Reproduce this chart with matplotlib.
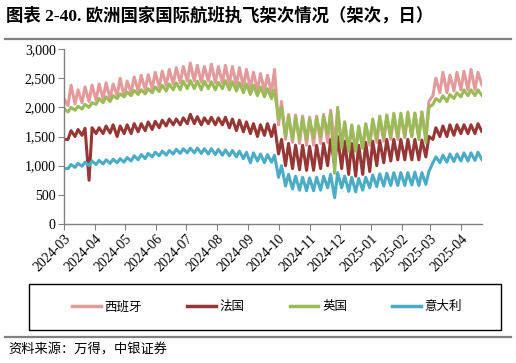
import matplotlib
matplotlib.use('Agg')
import matplotlib.pyplot as plt
import matplotlib.dates as mdates
from matplotlib.patches import Rectangle
from matplotlib.lines import Line2D
from matplotlib.ticker import FuncFormatter
import numpy as np
import pandas as pd

plt.rcParams['font.family'] = ['Liberation Serif', 'Noto Sans CJK SC', 'DejaVu Sans']

# Data: one low and one high reading per week (weekly flight cycle)
week_start = pd.date_range('2024-02-26', periods=61, freq='7D')

spain_lo = [2050, 2030, 2060, 2080, 2100, 2120, 2150, 2150, 2200, 2180,
            2250, 2280, 2300, 2320, 2350, 2380, 2400, 2420, 2450, 2450,
            2430, 2450, 2420, 2420, 2400, 2380, 2350, 2330, 2300, 2280,
            2250, 1700, 1450, 1400, 1380, 1350, 1350, 1380, 1400, 1400,
            1300, 1250, 1250, 1300, 1350, 1400, 1420, 1450, 1450, 1480,
            1500, 1500, 1500, 2200, 2250, 2250, 2280, 2300, 2300, 2300, 2380]
spain_hi = [2150, 2380, 2300, 2350, 2380, 2400, 2420, 2400, 2500, 2450,
            2520, 2550, 2560, 2600, 2620, 2650, 2680, 2700, 2760, 2720,
            2700, 2740, 2700, 2720, 2700, 2680, 2650, 2600, 2580, 2550,
            2650, 2100, 1880, 1870, 1850, 1830, 1850, 1880, 1950, 1950,
            1750, 1680, 1650, 1700, 1750, 1800, 1830, 1850, 1870, 1880,
            1900, 1920, 2100, 2500, 2600, 2550, 2600, 2620, 2650, 2600, 2450]

france_lo = [1350, 1450, 1500, 1520, 750, 1550, 1550, 1560, 1500, 1550,
             1550, 1580, 1600, 1620, 1650, 1680, 1700, 1700, 1720, 1720,
             1700, 1720, 1700, 1700, 1650, 1600, 1580, 1550, 1500, 1520,
             1500, 1200, 1000, 950, 930, 920, 920, 950, 1000, 1000,
             950, 850, 820, 850, 900, 1000, 1050, 1080, 1100, 1100,
             1100, 1100, 1150, 1450, 1500, 1500, 1520, 1550, 1550, 1550, 1580]
france_hi = [1450, 1600, 1620, 1640, 1650, 1650, 1680, 1700, 1680, 1700,
             1720, 1720, 1750, 1760, 1780, 1800, 1800, 1820, 1880, 1840,
             1820, 1830, 1820, 1830, 1800, 1780, 1750, 1720, 1700, 1720,
             1700, 1450, 1380, 1350, 1350, 1330, 1350, 1380, 1450, 1500,
             1420, 1380, 1350, 1400, 1420, 1430, 1450, 1450, 1450, 1450,
             1450, 1440, 1500, 1650, 1680, 1700, 1700, 1700, 1700, 1720, 1650]

uk_lo = [1900, 1920, 1950, 1970, 2000, 2050, 2080, 2100, 2150, 2180,
         2200, 2220, 2230, 2250, 2270, 2280, 2300, 2300, 2320, 2320,
         2300, 2320, 2300, 2320, 2300, 2280, 2250, 2220, 2200, 2180,
         2150, 1800, 1500, 1450, 1450, 1450, 1480, 1500, 1550, 870,
         1300, 1250, 1250, 1300, 1400, 1450, 1480, 1500, 1500, 1500,
         1500, 1450, 1400, 2050, 2100, 2100, 2150, 2180, 2200, 2200, 2200]
uk_hi = [1980, 2000, 2020, 2050, 2080, 2150, 2180, 2200, 2230, 2260,
         2290, 2300, 2320, 2350, 2380, 2400, 2420, 2450, 2460, 2450,
         2450, 2440, 2430, 2460, 2440, 2420, 2400, 2380, 2350, 2320,
         2300, 2000, 1850, 1830, 1820, 1800, 1820, 1850, 1900, 2000,
         1750, 1700, 1680, 1720, 1800, 1850, 1870, 1900, 1900, 1920,
         1900, 1920, 2000, 2150, 2200, 2220, 2250, 2300, 2300, 2300, 2280]

italy_lo = [880, 950, 970, 990, 1000, 1020, 1030, 1040, 1050, 1060,
            1080, 1100, 1120, 1150, 1170, 1180, 1200, 1210, 1220, 1220,
            1210, 1200, 1190, 1180, 1170, 1150, 1120, 1050, 1080, 1050,
            1060, 800, 650, 600, 580, 570, 570, 580, 620, 450,
            620, 560, 550, 580, 620, 640, 650, 660, 660, 660,
            670, 660, 680, 1050, 1050, 1060, 1070, 1080, 1080, 1090, 1100]
italy_hi = [950, 1020, 1040, 1060, 1080, 1090, 1100, 1110, 1120, 1140,
            1170, 1190, 1210, 1230, 1250, 1260, 1280, 1290, 1300, 1300,
            1290, 1290, 1280, 1270, 1260, 1250, 1230, 1220, 1200, 1190,
            1180, 1000, 850, 820, 800, 790, 800, 820, 850, 880,
            820, 800, 780, 800, 840, 860, 870, 880, 880, 880,
            890, 880, 900, 1150, 1180, 1200, 1200, 1220, 1220, 1230, 1150]

names = ['西班牙', '法国', '英国', '意大利']
colors = ['#E39A9A', '#953735', '#9BBB59', '#4BACC6']

lo_dates = (week_start + pd.Timedelta(days=1)).values
hi_dates = (week_start + pd.Timedelta(days=4)).values
dates = np.ravel(np.column_stack([lo_dates, hi_dates]))


def weave(lo, hi):
    return np.ravel(np.column_stack([lo, hi]))


series = [weave(spain_lo, spain_hi), weave(france_lo, france_hi),
          weave(uk_lo, uk_hi), weave(italy_lo, italy_hi)]

fig = plt.figure(figsize=(5.16, 3.63), dpi=100)
ax = fig.add_axes([64 / 516, 1 - 224 / 363, 418 / 516, 175 / 363])

for vals, c in zip(series, colors):
    ax.plot(dates, vals, color=c, lw=2.2, solid_joinstyle='round')

ax.set_ylim(0, 3000)
ax.set_yticks(np.arange(0, 3001, 500))
ax.yaxis.set_major_formatter(FuncFormatter(lambda v, p: f'{int(v):,}'))
ax.set_xlim(pd.Timestamp('2024-03-01'), pd.Timestamp('2025-04-22'))
ax.set_xticks(pd.date_range('2024-03-01', '2025-04-01', freq='MS'))
ax.xaxis.set_major_formatter(mdates.DateFormatter('%Y-%m'))
for lab in ax.get_xticklabels():
    lab.set_rotation(45)
    lab.set_ha('right')
    lab.set_rotation_mode('anchor')

for s in ['top', 'right']:
    ax.spines[s].set_visible(False)
for s in ['left', 'bottom']:
    ax.spines[s].set_color('#808080')
    ax.spines[s].set_linewidth(1.0)
ax.tick_params(axis='both', direction='out', length=4, color='#808080',
               labelsize=10, labelcolor='#000000', pad=2)

# Title and rules
fig.text(6 / 516, 1 - 16 / 363, '图表 2-40. 欧洲国家国际航班执飞架次情况（架次，日）',
         fontsize=12.5, fontweight='bold', va='center', ha='left')
fig.add_artist(Line2D([5 / 516, 511 / 516], [1 - 38.5 / 363] * 2, color='#808080', lw=1.6))
fig.add_artist(Line2D([5 / 516, 511 / 516], [1 - 337 / 363] * 2, color='#808080', lw=1.6))

# Legend box
fig.add_artist(Rectangle((29 / 516, 1 - 330 / 363), 472 / 516, 46 / 363,
                         transform=fig.transFigure, fill=False, ec='black', lw=1.0))
handles = [Line2D([], [], color=c, lw=2.5) for c in colors]
fig.legend(handles, names, loc='center', bbox_to_anchor=(267 / 516, 1 - 307 / 363),
           ncol=4, frameon=False, fontsize=9, handlelength=2.3, handletextpad=0.3,
           columnspacing=3.6)

fig.text(8 / 516, 1 - 350 / 363, '资料来源：万得，中银证券', fontsize=9.5,
         style='italic', va='center', ha='left')

fig.savefig('out.png', dpi=100)
